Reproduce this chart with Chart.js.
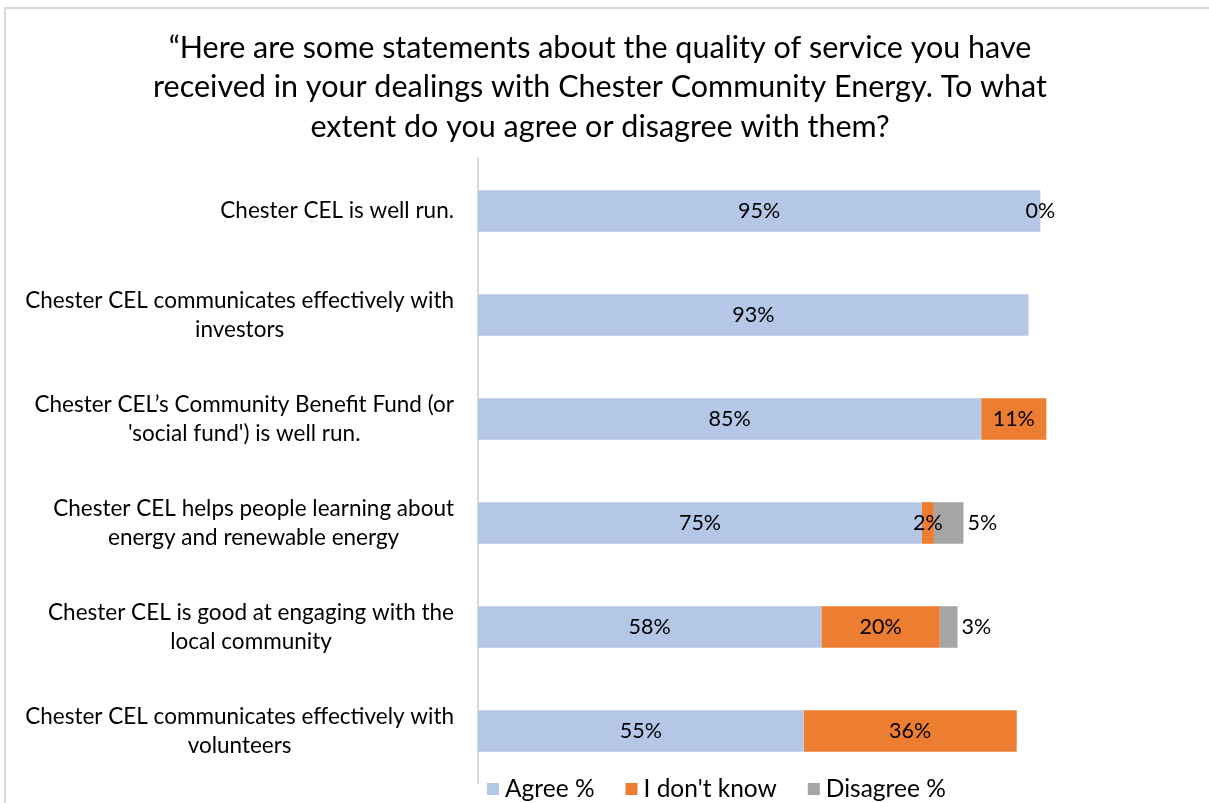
<!DOCTYPE html>
<html>
<head>
<meta charset="utf-8">
<script src="https://cdn.jsdelivr.net/npm/chart.js@4"></script>
<style>
	html, body { margin: 0; padding: 0; background: #fff; overflow: hidden; }
	#wrap { position: relative; width: 1209px; height: 803px; overflow: hidden; }
	#frame { position: absolute; left: 4px; top: 7px; width: 1220px; height: 820px; border-top: 2px solid #d9d9d9; border-left: 2px solid #d9d9d9; pointer-events: none; }
	canvas { display: block; }
</style>
</head>
<body>
<div id="wrap">
	<canvas id="canvas" width="1209" height="803"></canvas>
	<div id="frame"></div>
</div>
<script>
const canvas = document.getElementById("canvas");

const TITULO = [
	"\u201cHere are some statements about the quality of service you have",
	"received in your dealings with Chester Community Energy. To what",
	"extent do you agree or disagree with them?",
];
const CATEGORIAS = [
	["Chester CEL is well run."],
	["Chester CEL communicates effectively with", "investors"],
	["Chester CEL\u2019s Community Benefit Fund (or", "'social fund') is well run."],
	["Chester CEL helps people learning about", "energy and renewable energy"],
	["Chester CEL is good at engaging with the", "local community"],
	["Chester CEL communicates effectively with", "volunteers"],
];
const SERIES = ["Agree %", "I don't know", "Disagree %"];
const AGREE = [95, 93, 85, 75, 58, 55];
const NO_SABE = [0, null, 11, 2, 20, 36];
const DISAGREE = [null, null, null, 5, 3, null];
const COLORES = ["#b4c7e7", "#ed7d31", "#a5a5a5"];

const FUENTE = "Lato";

// etiquetas de categoria: bloque alineado a la derecha, lineas centradas
const etiquetasCategorias = {
	id: "etiquetasCategorias",
	afterDraw(chart) {
		const ctx = chart.ctx;
		const escala = chart.scales.y;
		ctx.save();
		ctx.font = "22.5px " + FUENTE;
		ctx.fillStyle = "#000";
		ctx.textBaseline = "middle";
		ctx.textAlign = "center";
		CATEGORIAS.forEach((lineas, i) => {
			const ancho = Math.max(...lineas.map((l) => ctx.measureText(l).width));
			const cx = chart.chartArea.left - 24 - ancho / 2;
			const cy = escala.getPixelForValue(i);
			lineas.forEach((l, j) => {
				ctx.fillText(l, cx, cy + (j - (lineas.length - 1) / 2) * 29);
			});
		});
		ctx.restore();
	},
};

const etiquetasDatos = {
	id: "etiquetasDatos",
	afterDatasetsDraw(chart) {
		const ctx = chart.ctx;
		ctx.save();
		ctx.font = "21.5px " + FUENTE;
		ctx.fillStyle = "#000";
		ctx.textBaseline = "middle";
		chart.data.datasets.forEach((ds, d) => {
			chart.getDatasetMeta(d).data.forEach((barra, i) => {
				const v = ds.data[i];
				if (v === null || v === undefined) return;
				if (d === 2) {
					ctx.textAlign = "left";
					ctx.fillText(v + "%", barra.x + 4, barra.y);
				} else {
					ctx.textAlign = "center";
					ctx.fillText(v + "%", (barra.x + barra.base) / 2, barra.y);
				}
			});
		});
		ctx.restore();
	},
};

const leyenda = {
	id: "leyenda",
	afterDraw(chart) {
		const ctx = chart.ctx;
		const y = chart.chartArea.bottom + 6;
		let x = chart.chartArea.left + 9;
		ctx.save();
		ctx.font = "24.5px " + FUENTE;
		ctx.textBaseline = "middle";
		ctx.textAlign = "left";
		chart.data.datasets.forEach((ds) => {
			ctx.fillStyle = ds.backgroundColor;
			ctx.fillRect(x, y - 6, 12, 12);
			ctx.fillStyle = "#000";
			ctx.fillText(ds.label, x + 18, y);
			x += 18 + ctx.measureText(ds.label).width + 31;
		});
		ctx.restore();
	},
};

const grafico = new Chart(canvas, {
	type: "bar",
	data: {
		labels: CATEGORIAS,
		datasets: [
			{ label: SERIES[0], data: AGREE, backgroundColor: COLORES[0] },
			{ label: SERIES[1], data: NO_SABE, backgroundColor: COLORES[1] },
			{ label: SERIES[2], data: DISAGREE, backgroundColor: COLORES[2] },
		],
	},
	options: {
		indexAxis: "y",
		responsive: false,
		animation: false,
		categoryPercentage: 0.4,
		barPercentage: 1,
		borderWidth: 0,
		layout: { padding: { left: 130, right: 139, top: 0, bottom: 20 } },
		scales: {
			x: { stacked: true, min: 0, max: 100, display: false },
			y: {
				stacked: true,
				grid: { display: false },
				ticks: { display: false },
				border: { display: true, color: "#d9d9d9", width: 2 },
				afterFit: (s) => { s.width = 348; },
			},
		},
		plugins: {
			legend: { display: false },
			tooltip: { enabled: false },
			title: {
				display: true,
				text: TITULO,
				color: "#000",
				font: { family: FUENTE, size: 30.5, weight: "normal", lineHeight: 1.3 },
				padding: { top: 28, bottom: 12 },
			},
		},
	},
	plugins: [etiquetasCategorias, etiquetasDatos, leyenda],
});
</script>
</body>
</html>
